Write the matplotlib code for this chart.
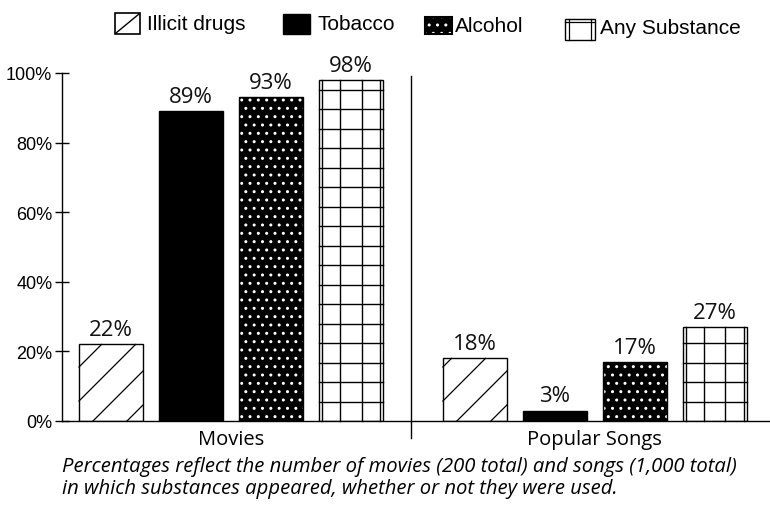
import matplotlib
matplotlib.use("Agg")
import matplotlib.pyplot as plt
from matplotlib.patches import Rectangle
from matplotlib.lines import Line2D
from matplotlib.transforms import IdentityTransform
from matplotlib import font_manager
import numpy as np

# ---- data ----
groups = ["Movies", "Popular Songs"]
substances = ["Illicit drugs", "Tobacco", "Alcohol", "Any Substance"]
movies_pct = [22, 89, 93, 98]
songs_pct = [18, 3, 17, 27]
y_ticks = [0, 20, 40, 60, 80, 100]
y_tick_labels = ["0%", "20%", "40%", "60%", "80%", "100%"]
caption = ("Percentages reflect the number of movies (200 total) and songs (1,000 total)\n"
           "in which substances appeared, whether or not they were used.")

installed = {f.name for f in font_manager.fontManager.ttflist}
NARROW = [f for f in ["Liberation Sans Narrow", "Liberation Sans", "DejaVu Sans"] if f in installed]
ROUND = ["Open Sans", "DejaVu Sans"]

W, H = 770, 510
fig = plt.figure(figsize=(W / 100, H / 100), dpi=100)
ax = fig.add_axes([62 / W, 1 - 422 / H, 708 / W, (422 - 74) / H])
ident = IdentityTransform()

group_offsets = [0.0, 4.55]
bar_w = 0.8
ax.set_xlim(-0.6125, 8.24)
ax.set_ylim(0, 100)


def px(x, y):
    """Figure pixel (from top-left) to display coordinates."""
    return x, H - y


def diagonal_segments(x0, y0, x1, y1, first, step):
    """45-degree lines inside a box, crossing the bottom edge at first + k*step."""
    segs = []
    h = y1 - y0
    xs = first
    while xs - step > x0 - h:
        xs -= step
    while xs < x1:
        t0 = max(0.0, x0 - xs)
        t1 = min(h, x1 - xs)
        if t1 > t0:
            segs.append(([xs + t0, xs + t1], [y0 + t0, y0 + t1]))
        xs += step
    return segs


all_values = [movies_pct, songs_pct]
bars_by_kind = {k: [] for k in range(4)}
for g, vals in enumerate(all_values):
    xs = group_offsets[g] + np.arange(len(vals))
    for k, (x, v) in enumerate(zip(xs, vals)):
        if k == 1:
            b = ax.bar(x, v, bar_w, color="black", edgecolor="black", lw=1)[0]
        elif k == 2:
            ax.bar(x, v, bar_w, color="black", edgecolor="white", hatch="..", lw=0)
            b = ax.bar(x, v, bar_w, fill=False, edgecolor="black", lw=1)[0]
        else:
            b = ax.bar(x, v, bar_w, color="white", edgecolor="black", lw=1)[0]
        bars_by_kind[k].append(b)
        ax.text(x, v + 1.2, f"{v}%", ha="center", va="bottom",
                fontsize=16, family=ROUND, color="#111111")

# Sparse diagonal hatching for illicit drugs
for b in bars_by_kind[0]:
    bb = b.get_window_extent()
    for sx, sy in diagonal_segments(bb.x0, bb.y0, bb.x1, bb.y1, bb.x0 + 14, 34):
        ax.add_artist(Line2D(sx, sy, transform=ident, color="black", lw=0.9, clip_on=False))

# Coarse grid with doubled side edges for any substance
for b in bars_by_kind[3]:
    bb = b.get_window_extent()
    x0, y0, x1, y1 = bb.x0, bb.y0, bb.x1, bb.y1
    w = x1 - x0
    for xv in [x0 + 3, x0 + w / 3, x0 + 2 * w / 3, x1 - 3]:
        ax.add_artist(Line2D([xv, xv], [y0, y1], transform=ident, color="black",
                             lw=1, clip_on=False))
    for yh in np.arange(y0 + 19.5, y1 - 4, 19.5):
        ax.add_artist(Line2D([x0, x1], [yh, yh], transform=ident, color="black",
                             lw=1, clip_on=False))

# Divider between the two groups
ax.plot([3.75, 3.75], [-5, 99], color="black", lw=1, clip_on=False)

# Axes styling
for s in ["top", "right"]:
    ax.spines[s].set_visible(False)
ax.spines["left"].set_linewidth(1)
ax.spines["bottom"].set_linewidth(1)
ax.set_yticks(y_ticks)
ax.set_yticklabels(y_tick_labels, family=NARROW, fontsize=13)
ax.tick_params(axis="y", direction="inout", length=10, width=1, pad=2)
ax.set_xticks([])

for g, name in enumerate(groups):
    ax.text(group_offsets[g] + 1.5, -2.2, name, ha="center", va="top",
            fontsize=14.5, family=ROUND)

# Legend row drawn as key boxes plus labels
key_boxes = [(115, 14, 25, 21), (283, 15, 27, 20), (425, 18, 27, 17), (565, 20, 30, 21)]
label_pos = [(147, 25), (317, 25), (455, 26), (600, 28)]
for i, name in enumerate(substances):
    bx, by, kw, kh = key_boxes[i]
    dx, dy = px(bx, by + kh)
    if i == 0:
        fig.add_artist(Rectangle((dx, dy), kw, kh, transform=ident, facecolor="white",
                                 edgecolor="black", lw=1.2))
        fig.add_artist(Line2D([dx + 1, dx + kw - 1], [dy + 1, dy + kh - 1],
                              transform=ident, color="black", lw=1))
    elif i == 1:
        fig.add_artist(Rectangle((dx, dy), kw, kh, transform=ident, facecolor="black",
                                 edgecolor="black", lw=1))
    elif i == 2:
        fig.add_artist(Rectangle((dx, dy), kw, kh, transform=ident, facecolor="black",
                                 edgecolor="white", hatch="..", lw=0))
        fig.add_artist(Rectangle((dx, dy), kw, kh, transform=ident, fill=False,
                                 edgecolor="black", lw=1.5))
    else:
        fig.add_artist(Rectangle((dx, dy), kw, kh, transform=ident, facecolor="white",
                                 edgecolor="black", lw=1))
        for xv in [dx + 4, dx + kw - 4]:
            fig.add_artist(Line2D([xv, xv], [dy, dy + kh], transform=ident,
                                  color="black", lw=0.9))
        fig.add_artist(Line2D([dx, dx + kw], [dy + kh - 3, dy + kh - 3], transform=ident,
                              color="black", lw=0.9))
    tx, tyy = px(*label_pos[i])
    fig.text(tx / W, tyy / H, name, ha="left", va="center", fontsize=15, family=NARROW)

fig.text(62 / W, 1 - 457 / H, caption, ha="left", va="top", fontsize=14.6,
         style="italic", family=ROUND, linespacing=1.15)

fig.savefig("out.png", dpi=100)
